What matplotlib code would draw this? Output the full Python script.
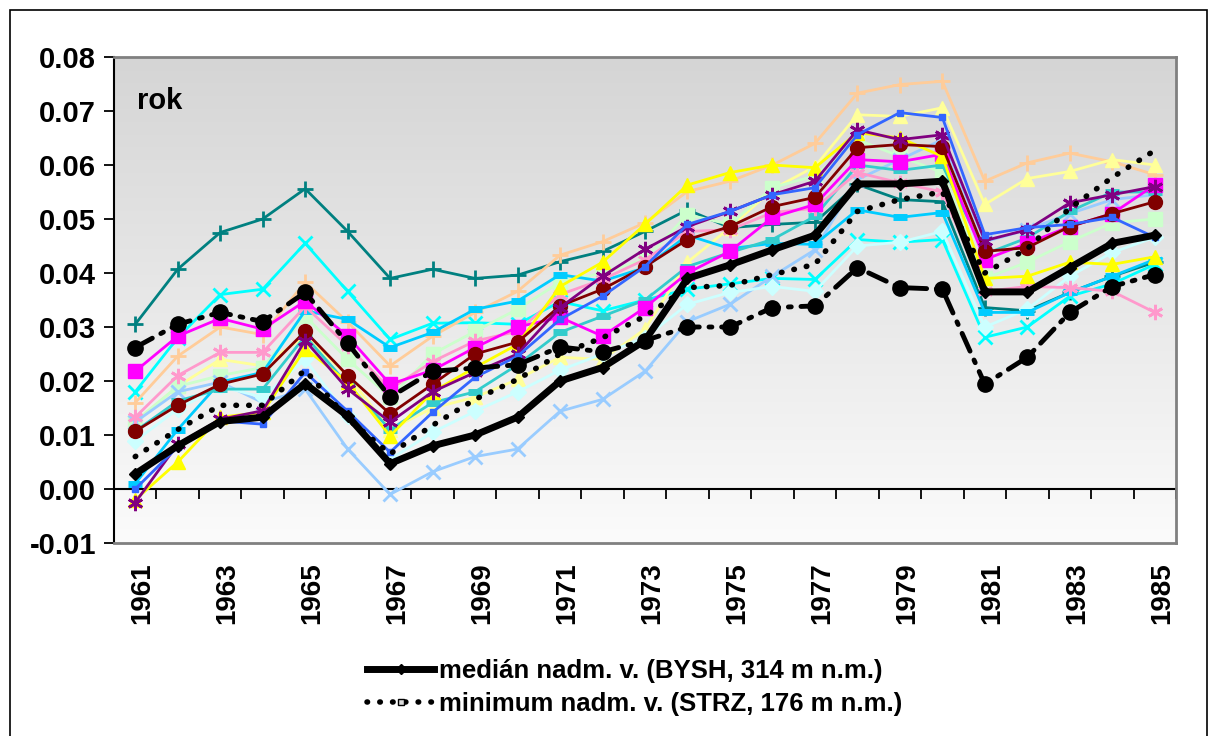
import numpy as np
import matplotlib
matplotlib.use("Agg")
import matplotlib.pyplot as plt
import matplotlib.transforms as mtransforms
from matplotlib.colors import LinearSegmentedColormap
from matplotlib.lines import Line2D
from matplotlib.patches import Rectangle

plt.rcParams['font.family'] = ['Liberation Sans', 'DejaVu Sans']
plt.rcParams['font.weight'] = 'bold'
plt.rcParams['axes.unicode_minus'] = False

years = list(range(1961, 1986))

# station series (annual values)
s_teal = [0.0305, 0.0407, 0.0475, 0.050, 0.0556, 0.0477, 0.039, 0.0407, 0.039, 0.0396, 0.0421, 0.044, 0.0477,
          0.0517, 0.0484, 0.049, 0.0494, 0.0564, 0.0536, 0.0532, 0.0336, 0.033, 0.0364, 0.0394, 0.042]
s_cyan = [0.018, 0.028, 0.036, 0.037, 0.0455, 0.0366, 0.0277, 0.0307, 0.0308, 0.0305, 0.0347, 0.033, 0.035,
          0.037, 0.038, 0.039, 0.0388, 0.0462, 0.0457, 0.0462, 0.0281, 0.030, 0.0357, 0.038, 0.0416]
s_magenta = [0.0218, 0.0283, 0.0316, 0.0296, 0.0348, 0.0283, 0.0194, 0.022, 0.0262, 0.030, 0.0318, 0.0283, 0.0336,
             0.040, 0.044, 0.0503, 0.0527, 0.061, 0.0606, 0.062, 0.0425, 0.0455, 0.0486, 0.051, 0.0563]
s_tan = [0.016, 0.0246, 0.030, 0.0286, 0.0383, 0.0309, 0.0228, 0.0283, 0.0327, 0.0366, 0.0433, 0.0458, 0.0493,
         0.0551, 0.057, 0.060, 0.064, 0.0733, 0.0749, 0.0755, 0.057, 0.0604, 0.0622, 0.0606, 0.0582]
s_lyellow = [0.0125, 0.019, 0.024, 0.0228, 0.0283, 0.021, 0.011, 0.015, 0.017, 0.0203, 0.0244, 0.024, 0.0296,
             0.042, 0.0484, 0.0555, 0.0597, 0.0693, 0.069, 0.0706, 0.0527, 0.0575, 0.0588, 0.061, 0.060]
s_yellow = [-0.002, 0.005, 0.0133, 0.0142, 0.026, 0.0198, 0.0098, 0.018, 0.0225, 0.0268, 0.0375, 0.042, 0.049,
            0.0563, 0.0586, 0.060, 0.0595, 0.066, 0.065, 0.0616, 0.039, 0.0394, 0.042, 0.0416, 0.043]
s_purple = [-0.0025, 0.0083, 0.0129, 0.0145, 0.0275, 0.0185, 0.0124, 0.018, 0.0216, 0.025, 0.0336, 0.0394, 0.0444,
            0.0486, 0.0514, 0.0545, 0.057, 0.0665, 0.0647, 0.0656, 0.046, 0.048, 0.053, 0.0545, 0.056]
s_maroon = [0.0107, 0.0155, 0.0194, 0.0213, 0.0292, 0.021, 0.0139, 0.0194, 0.025, 0.0272, 0.0339, 0.037, 0.0412,
            0.0462, 0.0486, 0.0523, 0.054, 0.0632, 0.0638, 0.0634, 0.044, 0.0447, 0.0486, 0.051, 0.0532]
s_rose = [0.0133, 0.021, 0.0253, 0.0253, 0.0338, 0.0265, 0.0185, 0.0236, 0.0274, 0.0292, 0.036, 0.0388, 0.0425,
          0.0477, 0.048, 0.0512, 0.052, 0.0586, 0.0567, 0.055, 0.0366, 0.0375, 0.0373, 0.0366, 0.0327]
s_lgreen = [0.0125, 0.019, 0.021, 0.0225, 0.032, 0.024, 0.017, 0.025, 0.0292, 0.0333, 0.0383, 0.040, 0.0425,
            0.0508, 0.049, 0.0558, 0.058, 0.0647, 0.0616, 0.0586, 0.039, 0.042, 0.0458, 0.0493, 0.050]
s_paleblue = [0.0124, 0.018, 0.0198, 0.016, 0.0185, 0.0074, -0.001, 0.0032, 0.006, 0.0074, 0.0144, 0.0166, 0.0218,
              0.031, 0.0342, 0.0394, 0.0443, 0.0573, 0.061, 0.0647, 0.0458, 0.048, 0.051, 0.0536, 0.0545]
s_aqua = [0.0107, 0.0163, 0.0185, 0.0185, 0.0283, 0.0194, 0.011, 0.016, 0.018, 0.023, 0.029, 0.032, 0.035,
          0.0412, 0.0438, 0.0462, 0.0505, 0.060, 0.059, 0.060, 0.0435, 0.0465, 0.0514, 0.055, 0.055]
s_skyblue = [0.001, 0.011, 0.0198, 0.0216, 0.033, 0.0314, 0.0262, 0.029, 0.0333, 0.0348, 0.0397, 0.0385, 0.041,
             0.047, 0.0445, 0.0455, 0.0453, 0.0517, 0.0503, 0.0512, 0.0327, 0.0327, 0.0364, 0.0394, 0.0425]
s_lturq = [0.0089, 0.0148, 0.019, 0.017, 0.024, 0.0135, 0.0055, 0.0105, 0.0144, 0.018, 0.022, 0.025, 0.028,
           0.0342, 0.0364, 0.0375, 0.0366, 0.045, 0.0457, 0.0477, 0.030, 0.0333, 0.0394, 0.0438, 0.0466]
s_blue = [0.000, 0.0078, 0.0126, 0.012, 0.0216, 0.0144, 0.0068, 0.0142, 0.0207, 0.0246, 0.0314, 0.0357, 0.0412,
          0.049, 0.0514, 0.0545, 0.0558, 0.0656, 0.0697, 0.0688, 0.0471, 0.0484, 0.049, 0.0503, 0.0466]
s_black = [0.0262, 0.0305, 0.0327, 0.031, 0.0364, 0.027, 0.017, 0.0218, 0.0224, 0.023, 0.0263, 0.0254, 0.0275,
           0.030, 0.030, 0.0336, 0.0339, 0.041, 0.0373, 0.037, 0.0194, 0.0244, 0.0327, 0.0375, 0.0397]

median = [0.0028, 0.008, 0.0125, 0.0133, 0.0195, 0.0135, 0.0047, 0.008, 0.010, 0.0133, 0.020, 0.0225, 0.0275,
          0.039, 0.0415, 0.0443, 0.047, 0.0565, 0.0565, 0.057, 0.0365, 0.0365, 0.041, 0.0455, 0.047]
minimum = [0.006, 0.011, 0.0155, 0.0155, 0.022, 0.013, 0.0065, 0.0118, 0.0166, 0.0203, 0.025, 0.028, 0.032,
           0.0373, 0.0377, 0.0397, 0.0416, 0.0514, 0.0536, 0.055, 0.040, 0.0445, 0.052, 0.0577, 0.0627]

label_median = 'medián nadm. v. (BYSH, 314 m n.m.)'
label_minimum = 'minimum nadm. v. (STRZ, 176 m n.m.)'

asterisk = (6, 2, 0)
series = [
    (s_teal, '#008080', '+', 11, 2.0),
    (s_cyan, '#00FFFF', 'x', 10, 2.0),
    (s_tan, '#FFCC99', '+', 11, 2.0),
    (s_lyellow, '#FFFF99', '^', 10, 1.0),
    (s_lgreen, '#CCFFCC', 's', 10, 1.0),
    (s_paleblue, '#99CCFF', 'x', 10, 2.0),
    (s_lturq, '#CCFFFF', 'D', 8, 1.0),
    (s_skyblue, '#00CCFF', '_', 10, 5.0),
    (s_aqua, '#33CCCC', '_', 10, 5.0),
    (s_rose, '#FF99CC', asterisk, 11, 2.0),
    (s_magenta, '#FF00FF', 's', 10, 1.0),
    (s_yellow, '#FFFF00', '^', 10, 1.0),
    (s_maroon, '#800000', 'o', 10, 1.0),
    (s_purple, '#800080', asterisk, 11, 2.0),
    (s_blue, '#3366FF', 's', 5, 1.0),
]

fig = plt.figure(figsize=(12.14, 7.36), dpi=100)
ax = fig.add_axes([114 / 1214, 1 - 543 / 736, 1062 / 1214, 486 / 736])

x = np.arange(len(years))

# plot-area gradient
cmap = LinearSegmentedColormap.from_list('bg', ['#d5d5d5', '#fbfbfb'])
ax.imshow(np.linspace(0, 1, 256)[:, None], extent=[-0.5, 24.5, -0.01, 0.08], aspect='auto',
          cmap=cmap, zorder=0)

for vals, col, mk, ms, mew in series:
    ax.plot(x, vals, color=col, lw=2, marker=mk, markersize=ms, markeredgewidth=mew,
            markerfacecolor=col, markeredgecolor=col, zorder=3)

ax.plot(x, s_black, color='black', lw=3.5, linestyle=(0, (4, 2, 0.6, 2)), dash_capstyle='round',
        marker='o', markersize=11, zorder=4)
ax.plot(x, minimum, color='black', lw=4, linestyle=(0, (0.1, 2.2)), dash_capstyle='round', zorder=5)
ax.plot(x, median, color='black', lw=5, marker='D', markersize=6, zorder=6)

# x axis line at zero with category separators
ax.axhline(0, color='black', lw=1.5, zorder=2)
ax.vlines(np.arange(-0.5, 25), -0.0018, 0, color='black', lw=1.3, zorder=2)

ax.set_xlim(-0.5, 24.5)
ax.set_ylim(-0.01, 0.08)
ax.set_yticks(np.arange(-0.01, 0.0801, 0.01))
ax.set_yticklabels([f'{v:.2f}' for v in np.arange(-0.01, 0.0801, 0.01)], fontsize=21, fontweight='bold')
ax.set_xticks(x[::2])
ax.set_xticklabels([str(y) for y in years[::2]], rotation=90, fontsize=20, fontweight='bold')
ax.tick_params(axis='x', length=0, pad=14)
ax.tick_params(axis='y', length=7, width=1.3, direction='out', pad=6)

shift = mtransforms.ScaledTranslation(7 / 100, 0, fig.dpi_scale_trans)
for lbl in ax.get_xticklabels():
    lbl.set_transform(lbl.get_transform() + shift)

for side in ['top', 'right', 'bottom']:
    ax.spines[side].set_color('#808080')
    ax.spines[side].set_linewidth(2)
ax.spines['left'].set_color('black')
ax.spines['left'].set_linewidth(1.5)

ax.text(0.022, 0.91, 'rok', transform=ax.transAxes, fontsize=21, fontweight='bold', va='center')

handles = [
    Line2D([], [], color='black', lw=5, marker='D', markersize=5),
    Line2D([], [], color='black', lw=4, linestyle=(0, (0.1, 2.2)), dash_capstyle='round',
           marker='s', markersize=5, markerfacecolor='#dddddd', markeredgecolor='black'),
]
fig.legend(handles, [label_median, label_minimum], loc='center', bbox_to_anchor=(0.523, 0.066),
           frameon=False, handlelength=2.6, handletextpad=0.2, labelspacing=0.35,
           prop={'weight': 'bold', 'size': 18.5})

fig.add_artist(Rectangle((10 / 1214, -0.01), 1197 / 1214, 1.0 - 10 / 736 + 0.01,
                         transform=fig.transFigure, fill=False, edgecolor='black', lw=1.2))

fig.savefig('out.png', dpi=100)
